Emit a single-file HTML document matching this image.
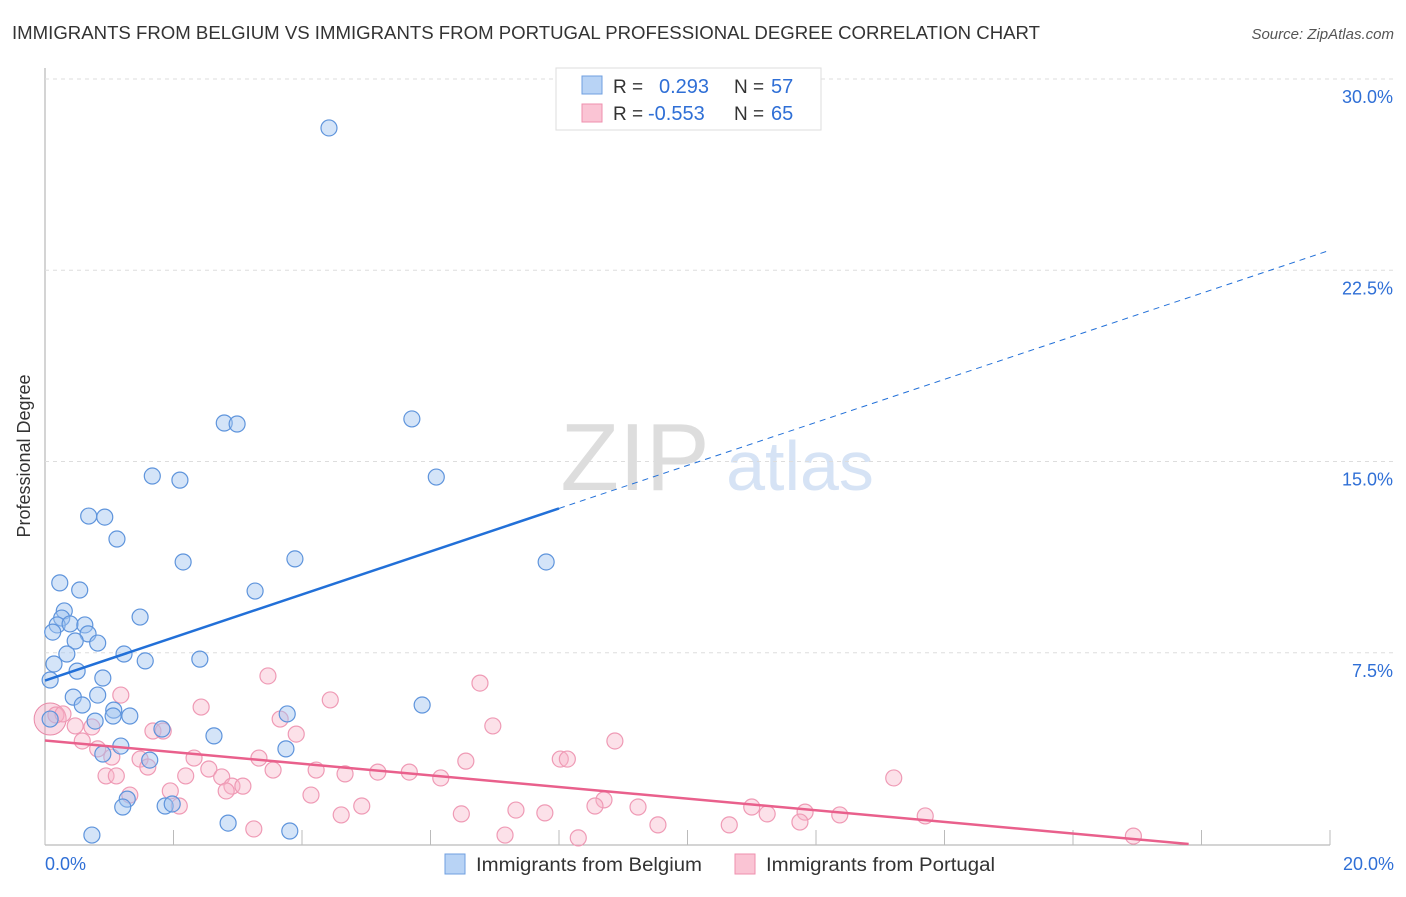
<!DOCTYPE html>
<html><head><meta charset="utf-8"><style>
body{margin:0;background:#fff;font-family:"Liberation Sans",sans-serif;}
svg text{font-family:"Liberation Sans",sans-serif;}
</style></head><body>
<svg id="chart" width="1406" height="892" viewBox="0 0 1406 892">
<text x="12" y="39" font-size="18.5" fill="#333" textLength="1028" lengthAdjust="spacingAndGlyphs">IMMIGRANTS FROM BELGIUM VS IMMIGRANTS FROM PORTUGAL PROFESSIONAL DEGREE CORRELATION CHART</text>
<text x="1394" y="39" font-size="15" fill="#555" font-style="italic" text-anchor="end">Source: ZipAtlas.com</text>
<text x="30" y="456" font-size="18" fill="#333" text-anchor="middle" transform="rotate(-90 30 456)">Professional Degree</text>
<g><text x="635" y="490" font-size="96" fill="#ddd" text-anchor="middle" font-family="Liberation Serif,serif">ZIP</text><text x="800" y="490" font-size="70" fill="#d6e3f5" text-anchor="middle">atlas</text></g>
<g id="grid"></g><g id="pts"></g><g id="lines"></g>
<g>
<rect x="556" y="68" width="265" height="62" fill="#fff" stroke="#ddd"/>
<rect x="582" y="76" width="20" height="18" fill="#b8d3f5" stroke="#6f9fe0"/>
<rect x="582" y="104" width="20" height="18" fill="#fac4d4" stroke="#ef8fae"/>
<text x="613" y="93" font-size="19" fill="#333">R =</text><text x="659" y="93" font-size="20" fill="#2f6fd6">0.293</text>
<text x="734" y="93" font-size="19" fill="#333">N =</text><text x="771" y="93" font-size="20" fill="#2f6fd6">57</text>
<text x="613" y="120" font-size="19" fill="#333">R =</text><text x="648" y="120" font-size="20" fill="#2f6fd6">-0.553</text>
<text x="734" y="120" font-size="19" fill="#333">N =</text><text x="771" y="120" font-size="20" fill="#2f6fd6">65</text>
</g>
<g>
<rect x="445" y="854" width="20" height="20" fill="#b8d3f5" stroke="#6f9fe0"/>
<text x="476" y="871" font-size="19" fill="#333" textLength="226" lengthAdjust="spacingAndGlyphs">Immigrants from Belgium</text>
<rect x="735" y="854" width="20" height="20" fill="#fac4d4" stroke="#ef8fae"/>
<text x="766" y="871" font-size="19" fill="#333" textLength="229" lengthAdjust="spacingAndGlyphs">Immigrants from Portugal</text>
</g>
</svg>
<script>
const xTicks=[0,2,4,6,8,10,12,14,16,18,20];
const yTicks=[7.5,15,22.5,30];
const yTickLabels=["7.5%","15.0%","22.5%","30.0%"];
const belgiumX=[4.42,2.79,2.99,5.71,1.67,2.10,6.09,0.68,0.93,1.12,2.15,3.89,7.80,0.23,0.54,3.27,1.48,0.30,0.26,0.19,0.39,0.62,0.12,0.67,0.47,0.82,0.34,1.23,1.56,2.41,0.14,0.50,0.90,0.08,0.44,0.82,0.58,1.07,1.32,1.06,5.87,3.77,0.78,1.82,2.63,1.18,0.90,1.63,3.75,1.28,1.21,1.87,1.98,2.85,3.81,0.73,0.08];
const belgiumY=[28.08,16.51,16.47,16.67,14.43,14.27,14.39,12.86,12.82,11.96,11.06,11.18,11.06,10.24,9.96,9.92,8.90,9.14,8.86,8.59,8.63,8.59,8.31,8.24,7.96,7.88,7.45,7.45,7.18,7.25,7.06,6.78,6.51,6.43,5.76,5.84,5.45,5.25,5.02,5.02,5.45,5.10,4.82,4.51,4.24,3.84,3.53,3.29,3.73,1.76,1.45,1.49,1.57,0.82,0.51,0.35,4.90];
const portugalX=[0.08,0.17,0.28,3.47,6.77,1.18,4.44,2.43,3.66,1.68,6.97,0.47,1.84,0.73,3.91,0.58,8.87,0.82,1.04,1.48,2.32,3.33,6.55,8.02,8.13,1.60,2.55,3.55,4.22,4.67,5.18,5.67,6.16,0.95,1.11,2.19,2.75,2.91,3.08,2.82,1.95,1.32,4.14,8.70,4.93,8.56,9.23,11.00,2.09,7.33,11.83,6.48,7.78,12.37,13.70,4.61,11.24,11.75,9.54,10.65,3.25,7.16,8.30,16.94,13.21];
const portugalY=[4.90,5.06,5.10,6.59,6.31,5.84,5.65,5.37,4.90,4.43,4.63,4.63,4.43,4.59,4.31,4.04,4.04,3.73,3.41,3.33,3.37,3.37,3.25,3.33,3.33,3.02,2.94,2.90,2.90,2.75,2.82,2.82,2.59,2.67,2.67,2.67,2.63,2.27,2.27,2.08,2.08,1.92,1.92,1.73,1.49,1.49,1.45,1.45,1.49,1.33,1.25,1.18,1.22,1.14,1.10,1.14,1.18,0.86,0.75,0.75,0.59,0.35,0.24,0.31,2.59];
const belgiumTrend=[0,6.41,8.0,13.16];
const portugalTrend=[0,4.06,17.8,0];
const X=v=>45+v*64.25, Y=v=>844-v*25.5;
const NS="http://www.w3.org/2000/svg";
function mk(tag,attrs,parent){const e=document.createElementNS(NS,tag);for(const k in attrs)e.setAttribute(k,attrs[k]);parent.appendChild(e);return e;}
const grid=document.getElementById('grid');
const ax=mk('line',{x1:45,y1:68,x2:45,y2:845,stroke:'#aaa'},grid);


const bx=mk('line',{x1:45,y1:845,x2:1330,y2:845,stroke:'#aaa'},grid);


yTicks.forEach((t,i)=>{
 const g=mk('line',{x1:45,y1:Y(t),x2:1394,y2:Y(t),stroke:'#ddd','stroke-dasharray':'4,4'},grid);
 
 
 const tx=mk('text',{x:1393,y:Y(t)+24,'font-size':18,fill:'#2f6fd6','text-anchor':'end'},grid);tx.textContent=yTickLabels[i];
 
 
});
xTicks.forEach(t=>{
 const l=mk('line',{x1:X(t),y1:830,x2:X(t),y2:845,stroke:'#bbb'},grid);
 
 
});
[[0,'0.0%','start',45],[20,'20.0%','end',1394]].forEach(a=>{
 const tx=mk('text',{x:a[3],y:870,'font-size':18,fill:'#2f6fd6','text-anchor':a[2]},grid);tx.textContent=a[1];
 
 
});
const pts=document.getElementById('pts');
const big=mk('circle',{cx:X(portugalX[0]),cy:Y(portugalY[0]),r:16,fill:'rgba(240,150,180,0.35)',stroke:'#e98aa8'},pts);


for(let i=1;i<portugalX.length;i++){
 const c=mk('circle',{cx:X(portugalX[i]),cy:Y(portugalY[i]),r:8,fill:'rgba(248,180,200,0.4)',stroke:'#ef9ab5','stroke-width':1.2},pts);
 
 
}
for(let i=0;i<belgiumX.length;i++){
 const c=mk('circle',{cx:X(belgiumX[i]),cy:Y(belgiumY[i]),r:8,fill:'rgba(160,195,240,0.45)',stroke:'#5e94dc','stroke-width':1.2},pts);
 
 
}
const lines=document.getElementById('lines');
const b0=belgiumTrend[1],bs=(belgiumTrend[3]-b0)/belgiumTrend[2];
const bl=mk('line',{x1:X(0),y1:Y(b0),x2:X(8),y2:Y(b0+bs*8),stroke:'#2270d8','stroke-width':2.5},lines);


const bd=mk('line',{x1:X(8),y1:Y(b0+bs*8),x2:X(19.97),y2:Y(b0+bs*19.97),stroke:'#2270d8','stroke-width':1,'stroke-dasharray':'6,5'},lines);


const pl=mk('line',{x1:X(0),y1:Y(portugalTrend[1]),x2:X(portugalTrend[2]),y2:Y(portugalTrend[3]),stroke:'#e9608c','stroke-width':2.5},lines);


</script>
</body></html>
